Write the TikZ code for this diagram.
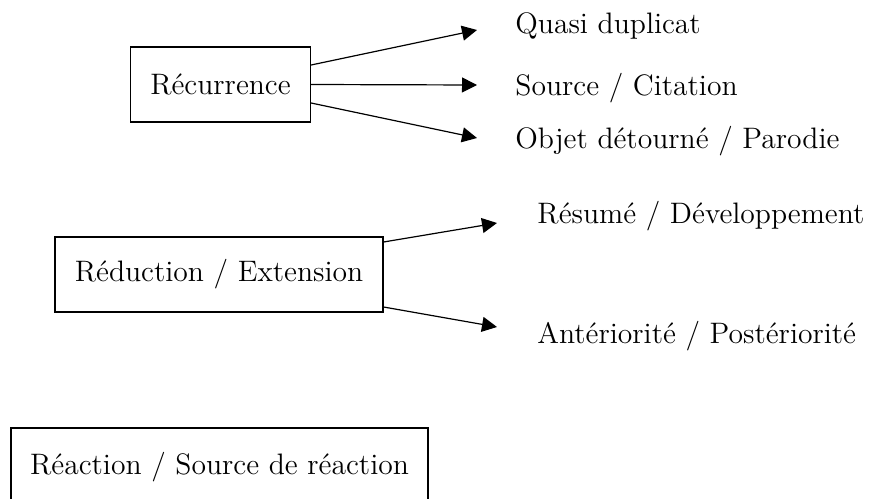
\documentclass[tikz,border=0pt]{standalone}
\usetikzlibrary{arrows.meta}

\begin{document}
\begin{tikzpicture}[x=0.5pt,y=-0.5pt,
    font=\fontsize{14.8}{17}\selectfont,
    cadre/.style={draw, line width=0.6pt, inner sep=0pt, minimum height=37.5pt},
    etiq/.style={anchor=base west, inner sep=0pt},
    fleche/.style={line width=0.6pt, -{Triangle[length=7.5pt,width=7.5pt]}}]
    \useasboundingbox (0,0) rectangle (882,498);
    \clip (0,0) rectangle (882,498);

    % Récurrence
    \node[cadre, minimum width=90pt] (rec) at (220.5,84.5) {Récurrence};
    \node[etiq] (quasi) at (515,33) {Quasi duplicat};
    \node[etiq] (source) at (515,95) {Source / Citation};
    \node[etiq] (objet) at (515,148) {Objet détourné / Parodie};
    \coordinate (pq) at (477,30);
    \coordinate (ps) at (477,85);
    \coordinate (po) at (477,138);
    \draw[fleche] ([yshift=9.75pt]rec.east) -- (pq);
    \draw[fleche] (rec.east) -- (ps);
    \draw[fleche] ([yshift=-9.25pt]rec.east) -- (po);

    % Réduction / Extension
    \node[cadre, minimum width=164pt] (red) at (219,274.5) {Réduction / Extension};
    \node[etiq] (resume) at (537,223) {Résumé / Développement};
    \node[etiq] (anter) at (537,343) {Antériorité / Postériorité};
    \coordinate (pr) at (497,223);
    \coordinate (pa) at (497,327);
    \draw[fleche] ([yshift=16.25pt]red.east) -- (pr);
    \draw[fleche] ([yshift=-16.25pt]red.east) -- (pa);

    % Réaction (bas du cadre hors image)
    \node[cadre, minimum width=208.5pt, minimum height=39pt] (reac) at (219.5,467) {Réaction / Source de réaction};
\end{tikzpicture}
\end{document}
